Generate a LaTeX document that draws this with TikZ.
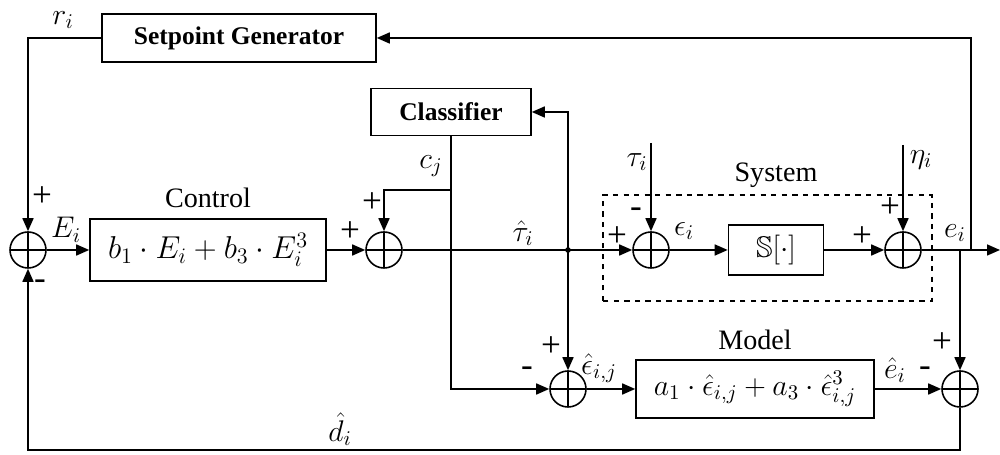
\RequirePackage{fix-cm}
\documentclass[tikz,border=0pt]{standalone}
\usepackage{amssymb}
\usepackage{amsmath}
\usepackage{fontspec}
\setmainfont{Liberation Serif}
\usepackage{tikz}
\usetikzlibrary{positioning,shapes,arrows.meta}
\tikzset{
    block/.style={rectangle, draw, line width=0.9pt, font=\fontsize{17}{20}\selectfont},
    sumnode/.style={circle, draw, line width=0.9pt, minimum size=7.2mm, inner sep=0pt,
        path picture={\draw[line width=0.9pt] (path picture bounding box.north) -- (path picture bounding box.south)
            (path picture bounding box.west) -- (path picture bounding box.east);}},
    lbl/.style={font=\fontsize{17}{20}\selectfont, inner sep=1pt},
    ttl/.style={font=\fontsize{16}{19}\selectfont, inner sep=1pt},
    sgn/.style={font=\fontsize{20}{22}\selectfont, inner sep=1pt},
    arr/.style={-{Triangle[length=2.6mm, width=2.2mm]}}
}

\begin{document}
\begin{tikzpicture}[line width=0.9pt]
    \useasboundingbox (0,0) rectangle (20,9.1);
    % Blocks
    \node[block, minimum width=5.48cm, minimum height=0.96cm, font=\fontsize{14.5}{17}\selectfont\bfseries] (setpt) at (4.78,8.34) {Setpoint Generator};
    \node[block, minimum width=3.2cm, minimum height=0.94cm, font=\fontsize{14.5}{17}\selectfont\bfseries] (classif) at (9.02,6.86) {Classifier};
    \node[block, minimum width=4.72cm, minimum height=1.24cm, font=\fontsize{18}{21}\selectfont] (ctrl) at (4.16,4.1) {$b_1\cdot E_i + b_3\cdot E_i^3$};
    \node[block, minimum width=1.9cm, minimum height=1.0cm] (plant) at (15.52,4.1) {$\mathbb{S}[\cdot]$};
    \node[block, minimum width=4.76cm, minimum height=1.16cm] (model) at (15.1,1.32) {$a_1\cdot \hat{\epsilon}_{i,j} + a_3\cdot \hat{\epsilon}_{i,j}^3$};

    % Summing points
    \node[sumnode] (sumr) at (0.56,4.1) {};
    \node[sumnode] (sumc) at (7.68,4.1) {};
    \node[sumnode] (sumtau) at (13.02,4.1) {};
    \node[sumnode] (sumeta) at (18.06,4.1) {};
    \node[sumnode] (summ) at (11.36,1.32) {};
    \node[sumnode] (sume) at (19.2,1.32) {};

    % Branch points
    \coordinate (cjbend) at (9.02,5.3);
    \coordinate (tauhat) at (11.36,4.1);
    \coordinate (tauin) at (13.02,6.24);
    \coordinate (etain) at (18.06,6.2);
    \coordinate (yout) at (20,4.1);
    \coordinate (fbup) at (19.42,4.1);
    \coordinate (fbdn) at (19.2,4.1);
    \coordinate (dbot) at (19.2,0.1);
    \fill (tauhat) circle (1.6pt);

    % System frame
    \draw[dashed, line width=0.7pt] (12.06,3.08) rectangle (18.64,5.2);

    % Connections
    \draw[arr] (setpt.west) -| (sumr.north);
    \draw[arr] (sumr.east) -- (ctrl.west);
    \draw[arr] (ctrl.east) -- (sumc.west);
    \draw[arr] (classif.south) -- (cjbend) -| (sumc.north);
    \draw[arr] (cjbend) |- (summ.west);
    \draw (sumc.east) -- (tauhat);
    \draw[arr] (tauhat) -- (sumtau.west);
    \draw[arr] (tauhat) |- (classif.east);
    \draw[arr] (tauhat) -- (summ.north);
    \draw[arr] (tauin) -- (sumtau.north);
    \draw[arr] (sumtau.east) -- (plant.west);
    \draw[arr] (plant.east) -- (sumeta.west);
    \draw[arr] (etain) -- (sumeta.north);
    \draw[arr] (sumeta.east) -- (yout);
    \draw[arr] (fbup) |- (setpt.east);
    \draw[arr] (fbdn) -- (sume.north);
    \draw[arr] (summ.east) -- (model.west);
    \draw[arr] (model.east) -- (sume.west);
    \draw[arr] (sume.south) -- (dbot) -| (sumr.south);

    % Titles
    \node[ttl] (tctrl) at (4.16,5.14) {Control};
    \node[ttl] (tsys) at (15.52,5.6) {System};
    \node[ttl] (tmodel) at (15.1,2.3) {Model};

    % Signals
    \node[lbl] (lr) at (1.26,8.7) {$r_i$};
    \node[lbl] (lE) at (1.32,4.5) {$E_i$};
    \node[lbl] (lcj) at (8.62,5.78) {$c_j$};
    \node[lbl] (ltauhat) at (10.46,4.44) {$\hat{\tau}_i$};
    \node[lbl] (ltau) at (12.74,5.86) {$\tau_i$};
    \node[lbl] (leps) at (13.68,4.48) {$\epsilon_i$};
    \node[lbl] (leta) at (18.42,5.9) {$\eta_i$};
    \node[lbl] (le) at (19.1,4.44) {$e_i$};
    \node[lbl] (lepshat) at (11.98,1.74) {$\hat{\epsilon}_{i,j}$};
    \node[lbl] (lehat) at (17.9,1.7) {$\hat{e}_i$};
    \node[lbl] (ldhat) at (6.8,0.52) {$\hat{d}_i$};

    % Signs
    \node[sgn] (s1) at (0.84,5.16) {+};
    \node[sgn] (s2) at (0.8,3.4) {-};
    \node[sgn] (s3) at (7.0,4.46) {+};
    \node[sgn] (s4) at (7.44,5.04) {+};
    \node[sgn] (s5) at (12.34,4.36) {+};
    \node[sgn] (s6) at (12.72,4.84) {-};
    \node[sgn] (s7) at (17.24,4.36) {+};
    \node[sgn] (s8) at (17.8,4.94) {+};
    \node[sgn] (s9) at (11.02,2.16) {+};
    \node[sgn] (s10) at (10.54,1.66) {-};
    \node[sgn] (s11) at (18.84,2.24) {+};
    \node[sgn] (s12) at (18.5,1.66) {-};
\end{tikzpicture}
\end{document}
